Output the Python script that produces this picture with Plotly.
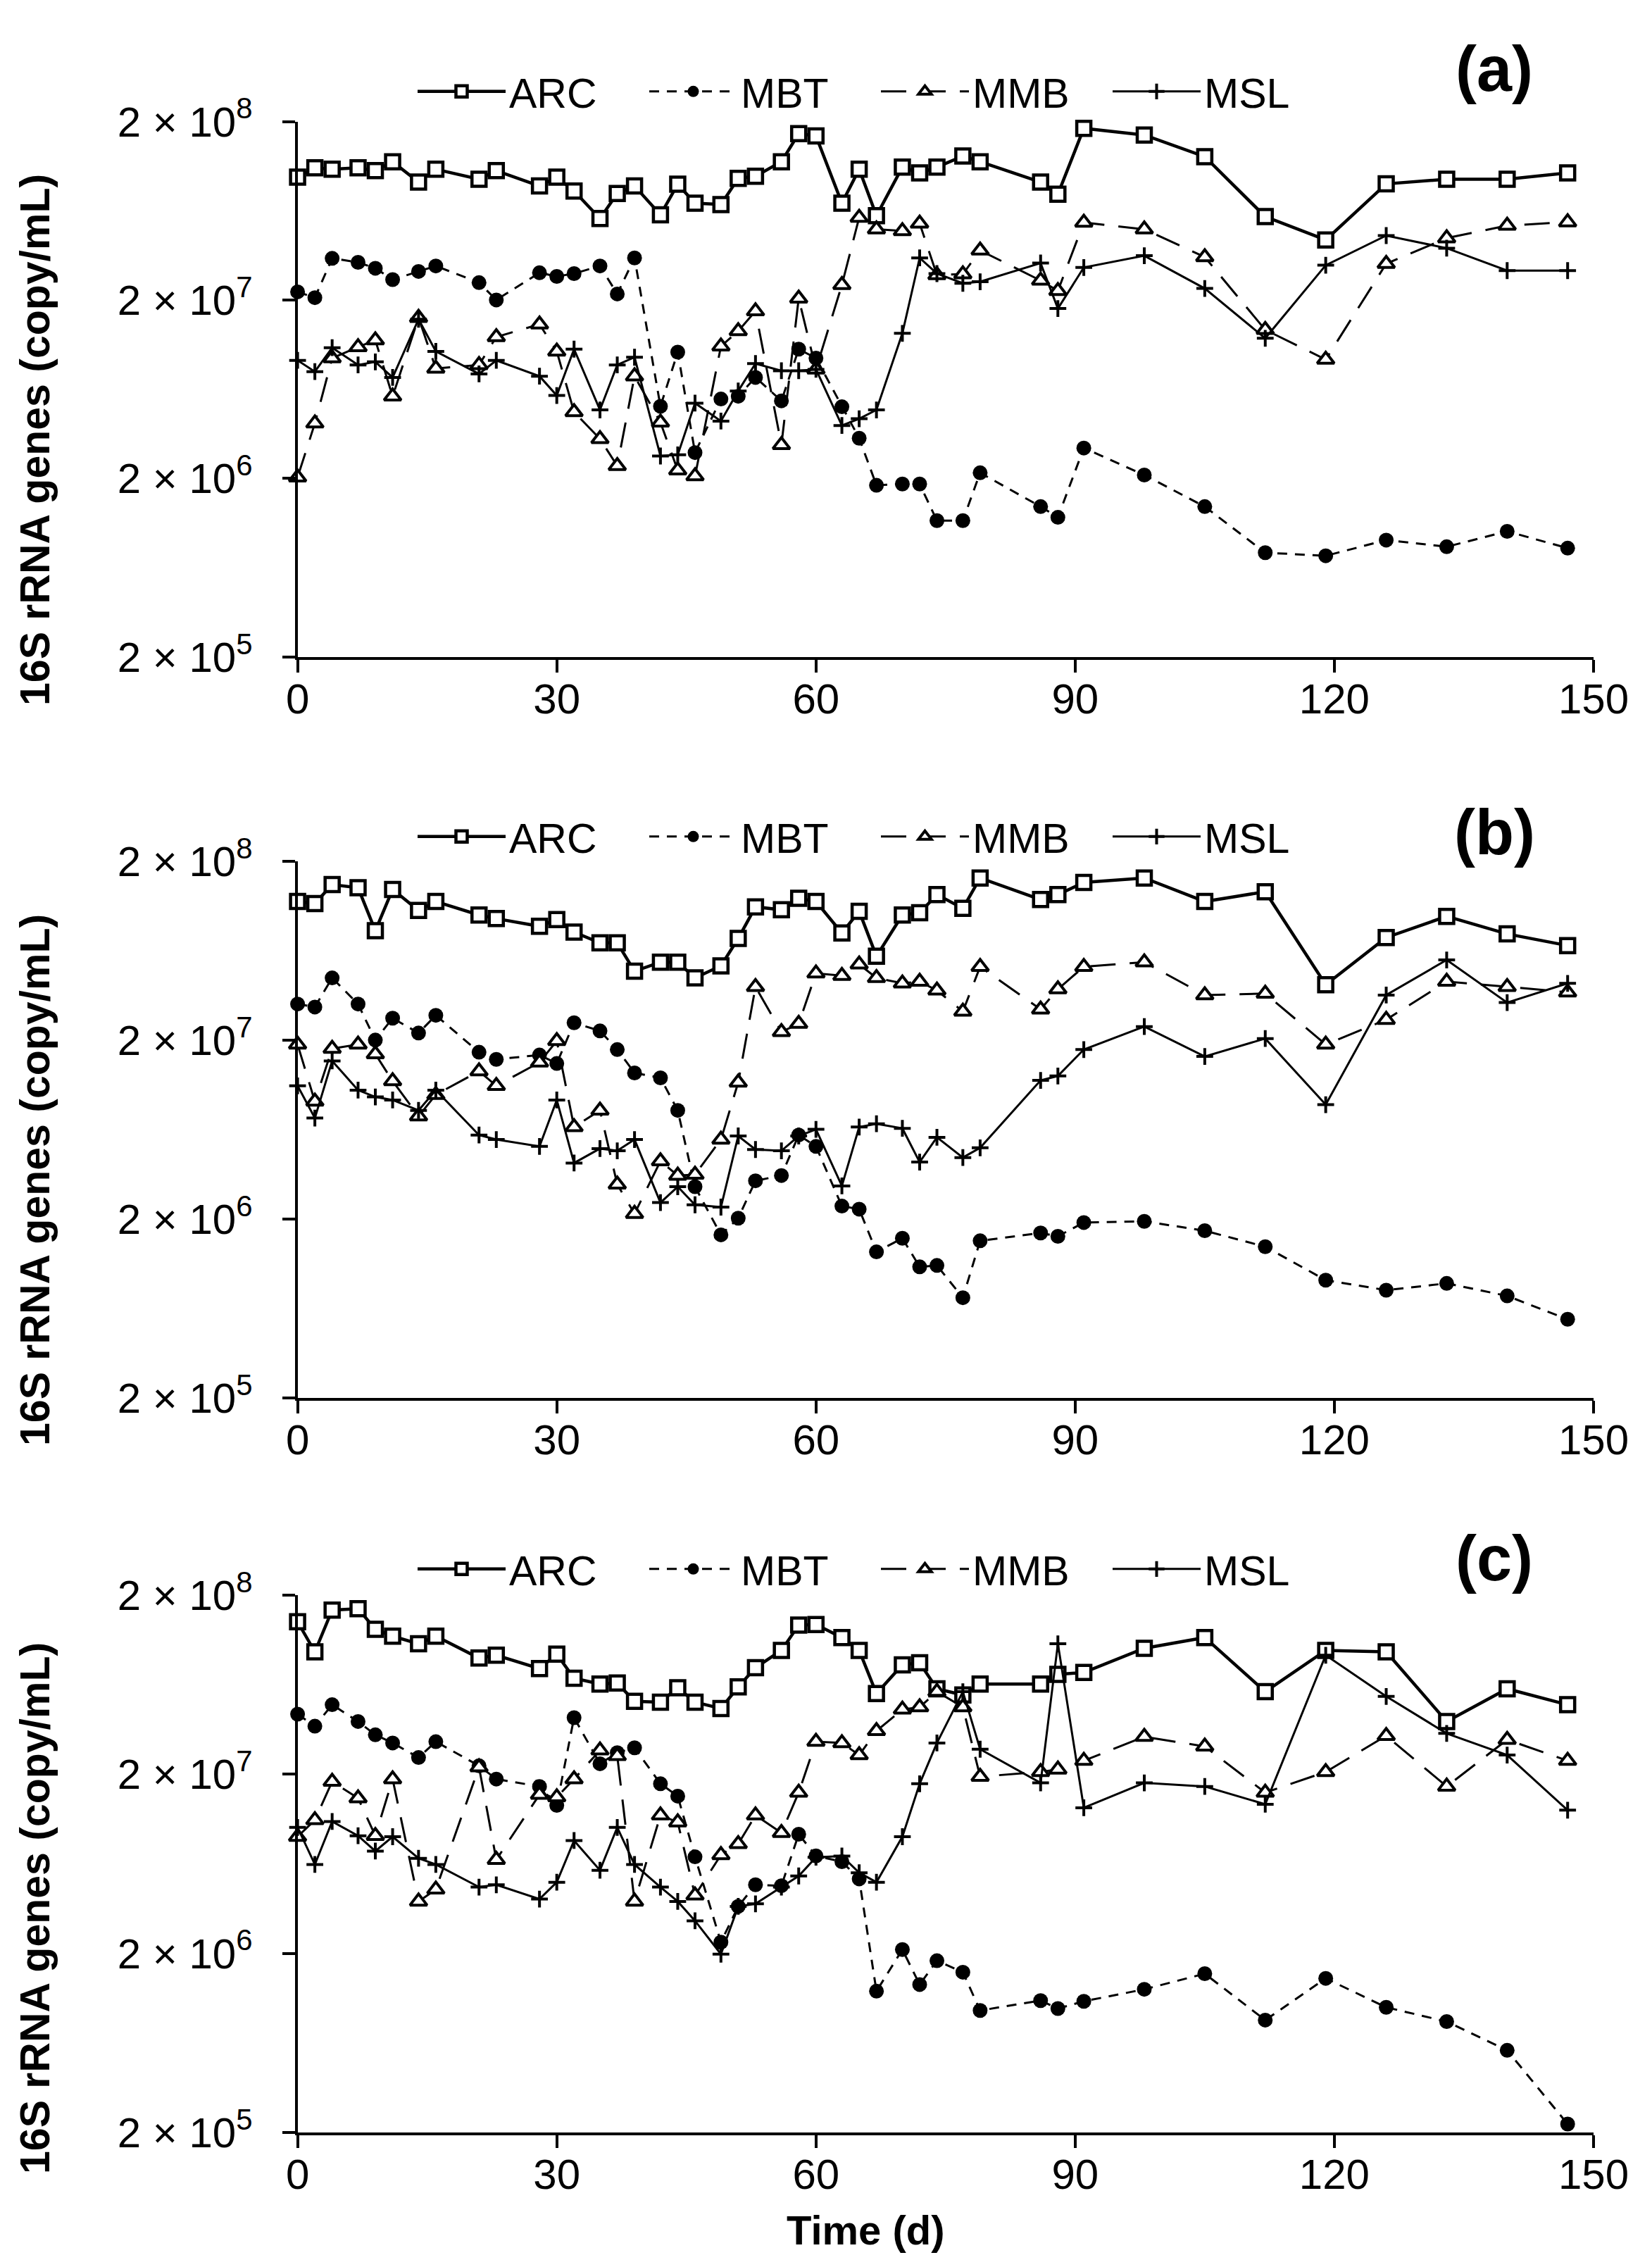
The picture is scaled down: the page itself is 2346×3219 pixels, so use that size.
import math
import plotly.graph_objects as go

# ---------------- data ----------------
days = [0, 2, 4, 7, 9, 11, 14, 16, 21, 23, 28, 30, 32, 35, 37, 39, 42, 44, 46, 49,
        51, 53, 56, 58, 60, 63, 65, 67, 70, 72, 74, 77, 79, 86, 88, 91, 98, 105, 112,
        119, 126, 133, 140, 147]

series_names = ["ARC", "MBT", "MMB", "MSL"]
panel_labels = ["(a)", "(b)", "(c)"]
x_ticks = [0, 30, 60, 90, 120, 150]
y_ticks = [2e5, 2e6, 2e7, 2e8]
y_ticktext = ["2 × 10<sup>5</sup>", "2 × 10<sup>6</sup>", "2 × 10<sup>7</sup>", "2 × 10<sup>8</sup>"]
y_title = "16S rRNA genes (copy/mL)"
x_title = "Time (d)"

arc_a = [9.75e7, 1.10e8, 1.08e8, 1.10e8, 1.06e8, 1.19e8, 9.15e7, 1.08e8, 9.5e7, 1.06e8,
         8.7e7, 9.75e7, 8.15e7, 5.72e7, 7.9e7, 8.7e7, 6.0e7, 8.9e7, 6.97e7, 6.85e7,
         9.6e7, 9.87e7, 1.19e8, 1.71e8, 1.66e8, 6.97e7, 1.08e8, 5.93e7, 1.11e8, 1.03e8,
         1.11e8, 1.28e8, 1.19e8, 9.15e7, 7.83e7, 1.83e8, 1.68e8, 1.27e8, 5.86e7, 4.34e7,
         8.94e7, 9.5e7, 9.5e7, 1.03e8]
mbt_a = [2.22e7, 2.06e7, 3.42e7, 3.25e7, 3.01e7, 2.6e7, 2.89e7, 3.1e7, 2.5e7, 2.0e7,
         2.84e7, 2.71e7, 2.81e7, 3.1e7, 2.16e7, 3.44e7, 5.07e6, 1.02e7, 2.79e6, 5.57e6,
         5.77e6, 7.36e6, 5.44e6, 1.06e7, 9.44e6, 5.04e6, 3.36e6, 1.83e6, 1.86e6, 1.86e6,
         1.16e6, 1.16e6, 2.15e6, 1.39e6, 1.21e6, 2.96e6, 2.09e6, 1.39e6, 7.67e5, 7.37e5,
         9.02e5, 8.28e5, 1.01e6, 8.13e5]
mmb_a = [2.03e6, 4.07e6, 9.44e6, 1.09e7, 1.19e7, 5.77e6, 1.59e7, 8.26e6, 8.65e6, 1.24e7,
         1.46e7, 1.03e7, 4.71e6, 3.33e6, 2.35e6, 7.48e6, 4.12e6, 2.22e6, 2.06e6, 1.1e7,
         1.34e7, 1.73e7, 3.08e6, 2.04e7, 8.17e6, 2.43e7, 5.79e7, 4.98e7, 4.87e7, 5.37e7,
         2.76e7, 2.79e7, 3.79e7, 2.57e7, 2.25e7, 5.43e7, 4.98e7, 3.48e7, 1.36e7, 9.27e6,
         3.19e7, 4.44e7, 5.22e7, 5.46e7]
msl_a = [9.17e6, 7.93e6, 1.08e7, 8.65e6, 9.0e6, 7.36e6, 1.56e7, 1.03e7, 7.7e6, 9.17e6,
         7.48e6, 5.83e6, 1.06e7, 4.84e6, 8.65e6, 9.55e6, 2.67e6, 2.71e6, 5.28e6, 4.19e6,
         6.18e6, 8.8e6, 8.02e6, 8.02e6, 8.17e6, 3.96e6, 4.32e6, 4.84e6, 1.30e7, 3.44e7,
         2.81e7, 2.48e7, 2.53e7, 3.22e7, 1.79e7, 3.04e7, 3.54e7, 2.32e7, 1.22e7, 3.13e7,
         4.59e7, 3.90e7, 2.92e7, 2.92e7]

arc_b = [1.19e8, 1.16e8, 1.48e8, 1.42e8, 8.17e7, 1.39e8, 1.06e8, 1.19e8, 1.0e8, 9.55e7,
         8.65e7, 9.44e7, 8.03e7, 6.99e7, 6.99e7, 4.85e7, 5.45e7, 5.45e7, 4.45e7, 5.2e7,
         7.4e7, 1.11e8, 1.07e8, 1.24e8, 1.19e8, 7.93e7, 1.05e8, 5.88e7, 1.0e8, 1.03e8,
         1.30e8, 1.09e8, 1.61e8, 1.22e8, 1.30e8, 1.52e8, 1.61e8, 1.19e8, 1.35e8, 4.08e7,
         7.49e7, 9.83e7, 7.84e7, 6.75e7]
mbt_b = [3.18e7, 3.06e7, 4.45e7, 3.18e7, 2.0e7, 2.65e7, 2.19e7, 2.75e7, 1.71e7, 1.56e7,
         1.65e7, 1.48e7, 2.5e7, 2.25e7, 1.77e7, 1.31e7, 1.23e7, 8.09e6, 3.03e6, 1.63e6,
         2.02e6, 3.27e6, 3.5e6, 5.89e6, 5.09e6, 2.36e6, 2.27e6, 1.31e6, 1.56e6, 1.08e6,
         1.10e6, 7.26e5, 1.51e6, 1.67e6, 1.6e6, 1.91e6, 1.94e6, 1.72e6, 1.40e6, 9.1e5,
         8.0e5, 8.73e5, 7.43e5, 5.5e5]
mmb_b = [1.89e7, 9.08e6, 1.79e7, 1.89e7, 1.67e7, 1.18e7, 7.5e6, 9.9e6, 1.34e7, 1.11e7,
         1.50e7, 1.98e7, 6.53e6, 8.09e6, 3.12e6, 2.14e6, 4.21e6, 3.5e6, 3.54e6, 5.56e6,
         1.16e7, 3.97e7, 2.22e7, 2.47e7, 4.72e7, 4.58e7, 5.3e7, 4.45e7, 4.15e7, 4.25e7,
         3.79e7, 2.89e7, 5.14e7, 2.97e7, 3.85e7, 5.14e7, 5.45e7, 3.57e7, 3.64e7, 1.89e7,
         2.6e7, 4.25e7, 3.97e7, 3.70e7]
msl_b = [1.11e7, 7.33e6, 1.53e7, 1.05e7, 9.62e6, 9.25e6, 8.09e6, 1.05e7, 5.89e6, 5.56e6,
         5.09e6, 9.25e6, 4.11e6, 4.95e6, 4.81e6, 5.56e6, 2.47e6, 3.03e6, 2.4e6, 2.33e6,
         5.82e6, 4.89e6, 4.81e6, 5.82e6, 6.34e6, 3.06e6, 6.53e6, 6.81e6, 6.42e6, 4.16e6,
         5.72e6, 4.41e6, 5.0e6, 1.19e7, 1.26e7, 1.77e7, 2.38e7, 1.62e7, 2.04e7, 8.71e6,
         3.57e7, 5.61e7, 3.24e7, 4.15e7]

arc_c = [1.42e8, 9.65e7, 1.65e8, 1.68e8, 1.29e8, 1.18e8, 1.07e8, 1.18e8, 8.91e7, 9.24e7,
         7.78e7, 9.36e7, 6.87e7, 6.38e7, 6.46e7, 5.11e7, 5.05e7, 6.08e7, 5.05e7, 4.66e7,
         6.15e7, 7.87e7, 9.83e7, 1.36e8, 1.37e8, 1.16e8, 9.83e7, 5.64e7, 8.17e7, 8.38e7,
         6.0e7, 5.54e7, 6.38e7, 6.38e7, 7.22e7, 7.4e7, 1.01e8, 1.16e8, 5.78e7, 9.83e7,
         9.65e7, 3.94e7, 6.0e7, 4.89e7]
mbt_c = [4.33e7, 3.71e7, 4.89e7, 3.94e7, 3.32e7, 2.99e7, 2.48e7, 3.04e7, 2.23e7, 1.88e7,
         1.71e7, 1.34e7, 4.14e7, 2.29e7, 2.64e7, 2.81e7, 1.77e7, 1.51e7, 6.92e6, 2.31e6,
         3.66e6, 4.83e6, 4.77e6, 9.25e6, 7.0e6, 6.5e6, 5.21e6, 1.23e6, 2.1e6, 1.34e6,
         1.82e6, 1.57e6, 9.6e5, 1.09e6, 9.84e5, 1.08e6, 1.26e6, 1.54e6, 8.48e5, 1.45e6,
         1.0e6, 8.32e5, 5.75e5, 2.23e5]
mmb_c = [8.96e6, 1.11e7, 1.82e7, 1.47e7, 9.07e6, 1.88e7, 3.9e6, 4.55e6, 2.19e7, 6.67e6,
         1.54e7, 1.49e7, 1.88e7, 2.72e7, 2.53e7, 3.9e6, 1.18e7, 1.08e7, 4.22e6, 7.09e6,
         8.17e6, 1.18e7, 9.42e6, 1.58e7, 3.04e7, 2.99e7, 2.56e7, 3.49e7, 4.6e7, 4.74e7,
         5.78e7, 4.74e7, 1.94e7, 2.06e7, 2.13e7, 2.38e7, 3.24e7, 2.86e7, 1.58e7, 2.06e7,
         3.28e7, 1.71e7, 3.12e7, 2.38e7]
msl_c = [1.01e7, 6.27e6, 1.09e7, 9.07e6, 7.45e6, 8.96e6, 6.79e6, 6.27e6, 4.69e6, 4.83e6,
         4.02e6, 4.99e6, 8.53e6, 5.82e6, 1.01e7, 6.27e6, 4.69e6, 3.9e6, 3.04e6, 1.98e6,
         3.66e6, 3.78e6, 4.69e6, 5.41e6, 6.88e6, 6.99e6, 5.64e6, 4.99e6, 8.96e6, 1.77e7,
         2.99e7, 5.78e7, 2.76e7, 1.79e7, 1.07e8, 1.30e7, 1.79e7, 1.71e7, 1.36e7, 9.24e7,
         5.44e7, 3.38e7, 2.56e7, 1.26e7]

panel_data = [
    [arc_a, mbt_a, mmb_a, msl_a],
    [arc_b, mbt_b, mmb_b, msl_b],
    [arc_c, mbt_c, mmb_c, msl_c],
]

# ---------------- layout geometry (pixels) ----------------
W, H = 2346, 3219
X0, X1 = 414.6, 2255.0
panel_px = [(164.5, 924.7), (1214.8, 1976.9), (2257.0, 3020.0)]
legend_y_px = [122, 1180, 2220]
label_y_px = [90, 1174, 2205]
ytitle_y_px = [617, 1668, 2702]

FONT = "Liberation Sans, Arial, sans-serif"


def py(v):
    return 1 - v / H


styles = {
    "ARC": dict(line=dict(color="black", width=4.5),
                marker=dict(symbol="square", size=20, color="white",
                            line=dict(color="black", width=4.5))),
    "MBT": dict(line=dict(color="black", width=3, dash="14px,11px"),
                marker=dict(symbol="circle", size=21, color="black",
                            line=dict(color="black", width=0))),
    "MMB": dict(line=dict(color="black", width=3, dash="36px,20px"),
                marker=dict(symbol="triangle-up", size=21, color="white",
                            line=dict(color="black", width=4))),
    "MSL": dict(line=dict(color="black", width=3),
                marker=dict(symbol="cross-thin", size=17, color="black",
                            line=dict(color="black", width=4))),
}

fig = go.Figure()
layout = dict(
    width=W, height=H, autosize=False,
    margin=dict(l=0, r=0, t=0, b=0, pad=0),
    paper_bgcolor="white", plot_bgcolor="white",
    font=dict(family=FONT, size=59, color="black"),
    annotations=[],
)

for i, data in enumerate(panel_data):
    sfx = "" if i == 0 else str(i + 1)
    xa, ya = "x" + sfx, "y" + sfx
    leg = "legend" + sfx
    for name, vals in zip(series_names, data):
        st = styles[name]
        fig.add_trace(go.Scatter(
            x=days, y=vals, name=name, mode="lines+markers",
            line=st["line"], marker=st["marker"],
            xaxis=xa, yaxis=ya, legend=leg, cliponaxis=False,
        ))
    top, bot = panel_px[i]
    axis_common = dict(showline=True, linewidth=4, linecolor="black", ticks="outside",
                       ticklen=18, tickwidth=4, tickcolor="black", showgrid=False,
                       zeroline=False, mirror=False, automargin=False,
                       tickfont=dict(family=FONT, size=60, color="black"))
    layout["xaxis" + sfx] = dict(domain=[X0 / W, X1 / W], anchor=ya, range=[0, 150],
                                 tickmode="array", tickvals=x_ticks,
                                 ticklabelstandoff=-14, **axis_common)
    layout["yaxis" + sfx] = dict(domain=[py(bot), py(top)], anchor=xa, type="log",
                                 range=[math.log10(2e5), math.log10(2e8)],
                                 tickmode="array", tickvals=y_ticks, ticktext=y_ticktext,
                                 ticklabelstandoff=30, **axis_common)
    layout[leg] = dict(orientation="h", x=580 / W, xanchor="left",
                       y=py(legend_y_px[i]), yanchor="middle",
                       bgcolor="rgba(0,0,0,0)", itemwidth=125,
                       entrywidth=189, entrywidthmode="pixels",
                       font=dict(family=FONT, size=59, color="black"),
                       traceorder="normal")
    layout["annotations"].append(dict(
        text="<b>" + panel_labels[i] + "</b>", xref="paper", yref="paper",
        x=2114 / W, y=py(label_y_px[i]), xanchor="center", yanchor="middle",
        showarrow=False, font=dict(family=FONT, size=90, color="black")))
    layout["annotations"].append(dict(
        text="<b>" + y_title + "</b>", xref="paper", yref="paper",
        x=42 / W, y=py(ytitle_y_px[i]), xanchor="center", yanchor="middle",
        textangle=-90, showarrow=False,
        font=dict(family=FONT, size=59, color="black")))

layout["annotations"].append(dict(
    text="<b>" + x_title + "</b>", xref="paper", yref="paper",
    x=1221 / W, y=py(3158), xanchor="center", yanchor="middle",
    showarrow=False, font=dict(family=FONT, size=58, color="black")))

fig.update_layout(**layout)
fig.write_html("out.html")
